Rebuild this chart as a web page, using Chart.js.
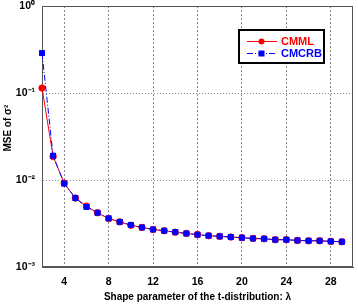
<!DOCTYPE html>
<html>
<head>
<meta charset="utf-8">
<script src="https://cdn.jsdelivr.net/npm/chart.js@4.4.1/dist/chart.umd.min.js"></script>
<style>
  body { margin: 0; background: #fff; }
  #wrap { width: 358px; height: 304px; }
</style>
</head>
<body>
<div id="wrap"><canvas id="mse-chart" width="358" height="304"></canvas></div>
<script>
// shape parameter lambda
const lambdas = [2, 3, 4, 5, 6, 7, 8, 9, 10, 11, 12, 13, 14, 15, 16, 17, 18, 19, 20, 21, 22, 23, 24, 25, 26, 27, 28, 29]
const cmml = [0.114, 0.0186, 0.0092, 0.0062, 0.0050, 0.0042, 0.0036, 0.0033, 0.00302, 0.00285, 0.00270, 0.00261, 0.00251, 0.00243, 0.00236, 0.00229, 0.00225, 0.00221, 0.00217, 0.00213, 0.00211, 0.00206, 0.00206, 0.00202, 0.00200, 0.00200, 0.00197, 0.00195]
const cmcrb = [0.288, 0.0190, 0.0091, 0.0062, 0.0049, 0.0042, 0.00363, 0.0033, 0.00304, 0.00285, 0.00270, 0.00261, 0.00252, 0.00243, 0.00235, 0.00229, 0.00225, 0.00221, 0.00217, 0.00213, 0.00211, 0.00206, 0.00206, 0.00202, 0.00200, 0.00200, 0.00197, 0.00195]
const xTicks = [4, 8, 12, 16, 20, 24, 28]
const yTicks = [0.001, 0.01, 0.1, 1]
const yTickLabels = ['10\u207B\u00B3', '10\u207B\u00B2', '10\u207B\u00B9', '10\u2070']

const font_family = "'Liberation Sans', Arial, sans-serif"
const red = '#ff0000'
const blue = '#0000ff'

const frame_plugin = {
  id: 'frame',
  beforeDatasetsDraw(chart) {
    const ctx = chart.ctx
    const a = chart.chartArea
    ctx.save()
    ctx.strokeStyle = '#555'
    ctx.lineWidth = 1
    ctx.strokeRect(a.left + 0.5, a.top + 0.5, a.right - a.left - 1, a.bottom - a.top - 1)
    ctx.restore()
  },
  afterDraw(chart) {
    const ctx = chart.ctx
    ctx.save()
    // legend box, matlab style
    const bx = 239, by = 30, bw = 85, bh = 33
    ctx.fillStyle = '#fff'
    ctx.fillRect(bx, by, bw, bh)
    ctx.strokeStyle = '#000'
    ctx.lineWidth = 2
    ctx.strokeRect(bx, by, bw, bh)
    ctx.font = "bold 11px " + font_family
    ctx.textBaseline = 'middle'
    chart.data.datasets.forEach(function(ds, i) {
      const y = by + 11.5 + i * 12
      ctx.strokeStyle = ds.borderColor
      ctx.lineWidth = 1
      ctx.setLineDash(ds.borderDash || [])
      ctx.beginPath()
      ctx.moveTo(bx + 8, y)
      ctx.lineTo(bx + 38, y)
      ctx.stroke()
      ctx.setLineDash([])
      ctx.fillStyle = ds.pointBackgroundColor
      if (ds.pointStyle === 'rect') {
        ctx.fillRect(bx + 19.5, y - 3, 6, 6)
      } else {
        ctx.beginPath()
        ctx.arc(bx + 22.5, y, 3, 0, Math.PI * 2)
        ctx.fill()
      }
      ctx.fillStyle = ds.borderColor
      ctx.fillText(ds.label, bx + 42, y + 0.5)
    })
    ctx.restore()
  }
}

const ctx = document.getElementById('mse-chart').getContext('2d')
new Chart(ctx, {
  type: 'line',
  data: {
    datasets: [
      {
        label: 'CMML',
        data: lambdas.map((x, i) => ({ x: x, y: cmml[i] })),
        borderColor: red,
        backgroundColor: red,
        pointBackgroundColor: red,
        pointBorderColor: red,
        pointStyle: 'circle',
        pointRadius: 3.2,
        borderWidth: 1,
        tension: 0,
        clip: false,
        order: 2
      },
      {
        label: 'CMCRB',
        data: lambdas.map((x, i) => ({ x: x, y: cmcrb[i] })),
        borderColor: blue,
        backgroundColor: blue,
        pointBackgroundColor: blue,
        pointBorderColor: blue,
        pointStyle: 'rect',
        pointRadius: 4.2,
        pointBorderWidth: 0,
        borderWidth: 1,
        borderDash: [6, 2, 1, 2],
        tension: 0,
        clip: false,
        order: 1
      }
    ]
  },
  options: {
    responsive: false,
    animation: false,
    devicePixelRatio: 1,
    layout: { padding: { top: 6, right: 1, left: 0, bottom: 0 } },
    plugins: {
      legend: { display: false },
      tooltip: { enabled: false }
    },
    scales: {
      x: {
        type: 'linear',
        min: 2,
        max: 30,
        afterBuildTicks(scale) {
          scale.ticks = xTicks.map(v => ({ value: v }))
        },
        afterFit(scale) {
          scale.height = 37
          scale.paddingLeft = 0
          scale.paddingRight = 0
        },
        ticks: {
          color: '#000',
          padding: 9,
          maxRotation: 0,
          font: { family: font_family, size: 10.5, weight: 'bold' }
        },
        grid: {
          color: '#888',
          drawTicks: false
        },
        border: { color: '#555', dash: [2, 2] },
        title: {
          display: true,
          text: 'Shape parameter of the t-distribution: \u03BB',
          color: '#000',
          padding: { top: 0, bottom: 1 },
          font: { family: font_family, size: 10, weight: 'bold' }
        }
      },
      y: {
        type: 'logarithmic',
        min: 0.001,
        max: 1,
        afterBuildTicks(scale) {
          scale.ticks = yTicks.map(v => ({ value: v }))
        },
        afterFit(scale) {
          scale.width = 42
          scale.paddingTop = 0
          scale.paddingBottom = 0
        },
        ticks: {
          color: '#000',
          padding: 7,
          font: { family: font_family, size: 10.5, weight: 'bold' },
          callback: function(value) {
            const i = yTicks.indexOf(value)
            return i >= 0 ? yTickLabels[i] : ''
          }
        },
        grid: {
          color: '#888',
          drawTicks: false
        },
        border: { color: '#555', dash: [1, 2] },
        title: {
          display: true,
          text: '      MSE of \u03C3\u00B2',
          color: '#000',
          padding: { top: 2, bottom: 0 },
          font: { family: font_family, size: 10, weight: 'bold' }
        }
      }
    }
  },
  plugins: [frame_plugin]
})
</script>
</body>
</html>
